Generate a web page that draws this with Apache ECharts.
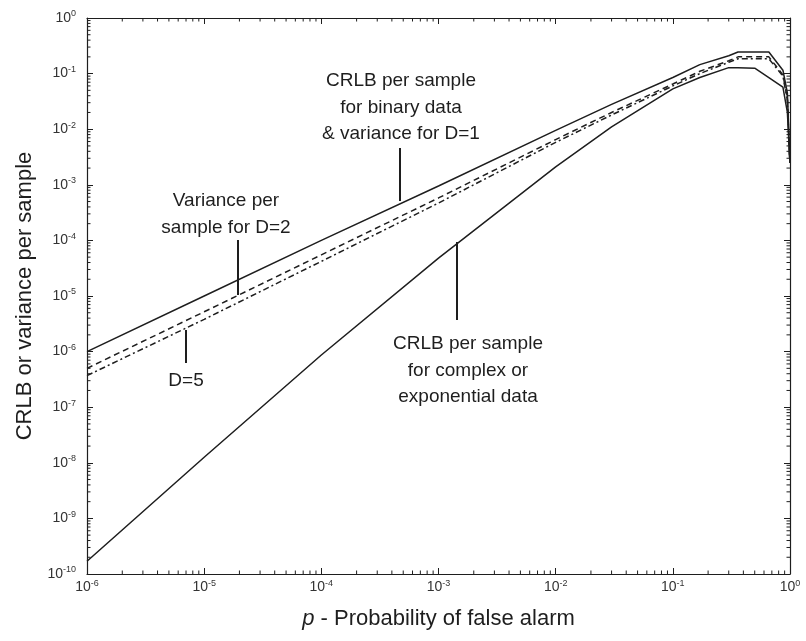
<!DOCTYPE html>
<html>
<head>
<meta charset="utf-8">
<script src="https://cdn.jsdelivr.net/npm/echarts@6/dist/echarts.min.js"></script>
<style>
  html, body { margin: 0; padding: 0; background: #fff; }
  #main { width: 806px; height: 641px; }
</style>
</head>
<body>
<div id="main"></div>
<script>
// 概率 p (横轴)
var pValues = [1e-6, 1e-5, 1e-4, 1e-3, 1e-2, 0.03, 0.1, 0.17, 0.3, 0.36, 0.5, 0.66, 0.87, 0.95, 0.998];
// CRLB for binary data & variance D=1
var binaryD1 = [1.0e-6, 1.0e-5, 1.0e-4, 9.5e-4, 9.5e-3, 0.028, 0.085, 0.145, 0.21, 0.245, 0.245, 0.245, 0.115, 0.045, 2.5e-3];
// variance for D=2 (dashed)
var varD2 = [5.0e-7, 5.2e-6, 5.5e-5, 5.8e-4, 6.5e-3, 0.02, 0.065, 0.11, 0.17, 0.2, 0.2, 0.2, 0.095, 0.035, 2.5e-3];
// variance for D=5 (dash-dot)
var varD5 = [3.7e-7, 3.8e-6, 4.2e-5, 4.7e-4, 5.8e-3, 0.018, 0.06, 0.1, 0.16, 0.185, 0.185, 0.185, 0.09, 0.033, 2.5e-3];
// CRLB for complex / exponential data
var complexExp = [1.7e-10, 1.26e-8, 8.7e-7, 4.8e-5, 2.1e-3, 0.011, 0.053, 0.085, 0.128, 0.128, 0.125, 0.085, 0.057, 0.02, 2.5e-3];

var xMinExp = -6, xMaxExp = 0;
var yMinExp = -10, yMaxExp = 0;

function pairs(ys) {
  return pValues.map(function (p, i) { return [p, ys[i]]; });
}

var ink = '#1e1e1e';
var font = "'Liberation Sans', Arial, sans-serif";

function powLabel(v) {
  var e = Math.round(Math.log10(v));
  return '{b|10}{s|' + e + '}';
}
var labelRich = {
  b: { fontSize: 14, color: '#333', fontFamily: font },
  s: { fontSize: 9, color: '#333', fontFamily: font, verticalAlign: 'bottom', padding: [0, 0, 8, 0] }
};

var myChart = echarts.init(document.getElementById('main'));

var lineBase = { color: ink, width: 1.5 };

var option = {
  backgroundColor: '#fff',
  animation: false,
  grid: { left: 87, top: 18, right: 16, bottom: 67 },
  xAxis: [{
    type: 'log', logBase: 10,
    min: Math.pow(10, xMinExp), max: Math.pow(10, xMaxExp),
    interval: 1,
    axisLine: { show: true, lineStyle: { color: ink, width: 1.2 } },
    axisTick: { show: true, inside: true, length: 6, lineStyle: { color: ink } },
    splitLine: { show: false },
    axisLabel: { margin: 5, formatter: powLabel, rich: labelRich },
    name: '{i|p} - Probability of false alarm',
    nameLocation: 'middle', nameGap: 34,
    nameTextStyle: {
      fontSize: 22, color: ink, fontFamily: font,
      rich: { i: { fontSize: 22, fontStyle: 'italic', color: ink, fontFamily: font } }
    }
  }, {
    type: 'log', logBase: 10, position: 'top',
    min: Math.pow(10, xMinExp), max: Math.pow(10, xMaxExp),
    interval: 1,
    axisLine: { show: true, lineStyle: { color: ink, width: 1.2 } },
    axisTick: { show: true, inside: true, length: 6, lineStyle: { color: ink } },
    axisLabel: { show: false },
    splitLine: { show: false }
  }],
  yAxis: [{
    type: 'log', logBase: 10,
    min: Math.pow(10, yMinExp), max: Math.pow(10, yMaxExp),
    interval: 1,
    axisLine: { show: true, lineStyle: { color: ink, width: 1.2 } },
    axisTick: { show: true, inside: true, length: 6, lineStyle: { color: ink } },
    splitLine: { show: false },
    axisLabel: { margin: 11, formatter: powLabel, rich: labelRich },
    name: 'CRLB or variance per sample',
    nameLocation: 'middle', nameGap: 51,
    nameTextStyle: { fontSize: 22, color: ink, fontFamily: font }
  }, {
    type: 'log', logBase: 10, position: 'right',
    min: Math.pow(10, yMinExp), max: Math.pow(10, yMaxExp),
    interval: 1,
    axisLine: { show: true, lineStyle: { color: ink, width: 1.2 } },
    axisTick: { show: true, inside: true, length: 6, lineStyle: { color: ink } },
    axisLabel: { show: false },
    splitLine: { show: false }
  }],
  series: [
    { name: 'binary', type: 'line', data: pairs(binaryD1), showSymbol: false,
      lineStyle: lineBase },
    { name: 'D=2', type: 'line', data: pairs(varD2), showSymbol: false,
      lineStyle: { color: ink, width: 1.5, type: [6, 4] } },
    { name: 'D=5', type: 'line', data: pairs(varD5), showSymbol: false,
      lineStyle: { color: ink, width: 1.5, type: [6, 3, 2, 3] } },
    { name: 'complex', type: 'line', data: pairs(complexExp), showSymbol: false,
      lineStyle: lineBase }
  ]
};

myChart.setOption(option);

// 标注文字与指示线
var textStyle = { fill: ink, font: '19px ' + font, textAlign: 'center' };
function label(x, y, txt) {
  return { type: 'text', x: x, y: y, style: Object.assign({ text: txt, lineHeight: 26.5 }, textStyle), z: 10 };
}
function pointer(x, y1, y2) {
  return { type: 'line', shape: { x1: x, y1: y1, x2: x, y2: y2 }, style: { stroke: ink, lineWidth: 2 }, z: 10 };
}

var graphics = [
  label(401, 68, 'CRLB per sample\nfor binary data\n& variance for D=1'),
  pointer(400, 148, 201),
  label(226, 188, 'Variance per\nsample for D=2'),
  pointer(238, 240, 295),
  label(186, 368, 'D=5'),
  pointer(186, 330, 363),
  label(468, 331, 'CRLB per sample\nfor complex or\nexponential data'),
  pointer(457, 242, 320)
];

// 对数副刻度 (2..9 倍)
var gx = 87, gy = 18, gr = 806 - 16, gb = 641 - 67;
for (var k = xMinExp; k < xMaxExp; k++) {
  for (var m = 2; m <= 9; m++) {
    var px = myChart.convertToPixel({ xAxisIndex: 0 }, m * Math.pow(10, k));
    graphics.push({ type: 'line', shape: { x1: px, y1: gb, x2: px, y2: gb - 3.5 }, style: { stroke: ink, lineWidth: 1 } });
    graphics.push({ type: 'line', shape: { x1: px, y1: gy, x2: px, y2: gy + 3.5 }, style: { stroke: ink, lineWidth: 1 } });
  }
}
for (var k2 = yMinExp; k2 < yMaxExp; k2++) {
  for (var m2 = 2; m2 <= 9; m2++) {
    var py = myChart.convertToPixel({ yAxisIndex: 0 }, m2 * Math.pow(10, k2));
    graphics.push({ type: 'line', shape: { x1: gx, y1: py, x2: gx + 3.5, y2: py }, style: { stroke: ink, lineWidth: 1 } });
    graphics.push({ type: 'line', shape: { x1: gr, y1: py, x2: gr - 3.5, y2: py }, style: { stroke: ink, lineWidth: 1 } });
  }
}

myChart.setOption({ graphic: graphics });
</script>
</body>
</html>
